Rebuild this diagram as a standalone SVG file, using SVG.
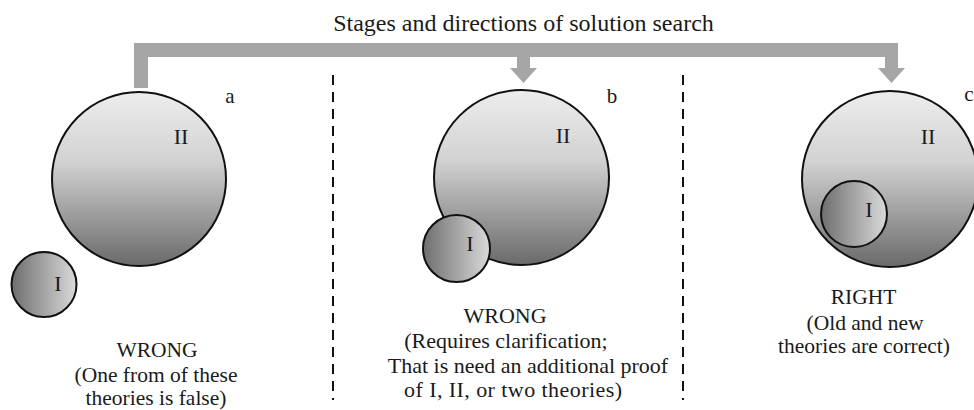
<svg xmlns="http://www.w3.org/2000/svg" width="974" height="410" viewBox="0 0 974 410">
<style>
text{font-family:"Liberation Serif","Times New Roman",serif;fill:#1a1a1a}
.lbl{font-size:21.5px;text-anchor:middle}
.lblb{font-size:22px;text-anchor:middle}
.rn{font-size:22px;text-anchor:middle}
.big{fill:url(#gv);stroke:#111;stroke-width:2}
.small{fill:url(#gh);stroke:#111;stroke-width:2}
.dash{stroke:#111;stroke-width:2;stroke-dasharray:10 7;fill:none}
.conn{fill:#a6a6a6}
</style>
<defs>
<linearGradient id="gv" x1="0" y1="0" x2="0" y2="1">
<stop offset="0" stop-color="#ededed"/>
<stop offset="0.4" stop-color="#d2d2d2"/>
<stop offset="1" stop-color="#6a6a6a"/>
</linearGradient>
<linearGradient id="gh" x1="0" y1="0" x2="1" y2="0">
<stop offset="0" stop-color="#6e6e6e"/>
<stop offset="1" stop-color="#dadada"/>
</linearGradient>
</defs>
<text x="523.5" y="31" style="font-size:24px;text-anchor:middle">Stages and directions of solution search</text>
<g id="connectors">
<polygon class="conn" points="134,43 898,43 898,68 905,68 891.5,83 878,68 885,68 885,57 530,57 530,68 537,68 523.5,83 510,68 517,68 517,57 148,57 148,88 134,88"/>
</g>
<g id="dividers">
<line class="dash" x1="333" y1="75" x2="333" y2="400"/>
<line class="dash" x1="683" y1="75" x2="683" y2="400"/>
</g>
<g id="stage-a">
<circle class="big" cx="139" cy="179" r="87"/>
<text class="rn" x="181" y="144">II</text>
<text x="230" y="103" style="font-size:21px;text-anchor:middle">a</text>
</g>
<g id="stage-a-I">
<circle class="small" cx="44" cy="284.5" r="32.5"/>
<text class="rn" x="58" y="291">I</text>
</g>
<g id="stage-a-text">
<text class="lbl" x="157" y="357">WRONG</text>
<text class="lbl" x="156" y="382">(One from of these</text>
<text class="lbl" x="156" y="405">theories is false)</text>
</g>
<g id="stage-b">
<circle class="big" cx="521.5" cy="177.5" r="87.5"/>
<text class="rn" x="563" y="143">II</text>
<text x="612" y="103" style="font-size:21px;text-anchor:middle">b</text>
</g>
<g id="stage-b-I">
<circle class="small" cx="456.5" cy="248.5" r="33.5"/>
<text class="rn" x="470" y="251">I</text>
</g>
<g id="stage-b-text">
<text class="lblb" x="505" y="323">WRONG</text>
<text class="lblb" x="506" y="348">(Requires clarification;</text>
<text class="lblb" x="528" y="373">That is need an additional proof</text>
<text class="lblb" x="513" y="397" textLength="218" lengthAdjust="spacing">of I, II, or two theories)</text>
</g>
<g id="stage-c">
<circle class="big" cx="890" cy="179" r="88"/>
<text class="rn" x="928" y="144">II</text>
<text x="969" y="101" style="font-size:21px;text-anchor:middle">c</text>
</g>
<g id="stage-c-I">
<circle class="small" cx="854" cy="214" r="33"/>
<text class="rn" x="869" y="217">I</text>
</g>
<g id="stage-c-text">
<text class="lbl" x="863.5" y="304">RIGHT</text>
<text class="lbl" x="865" y="330">(Old and new</text>
<text class="lbl" x="864" y="353">theories are correct)</text>
</g>
</svg>
